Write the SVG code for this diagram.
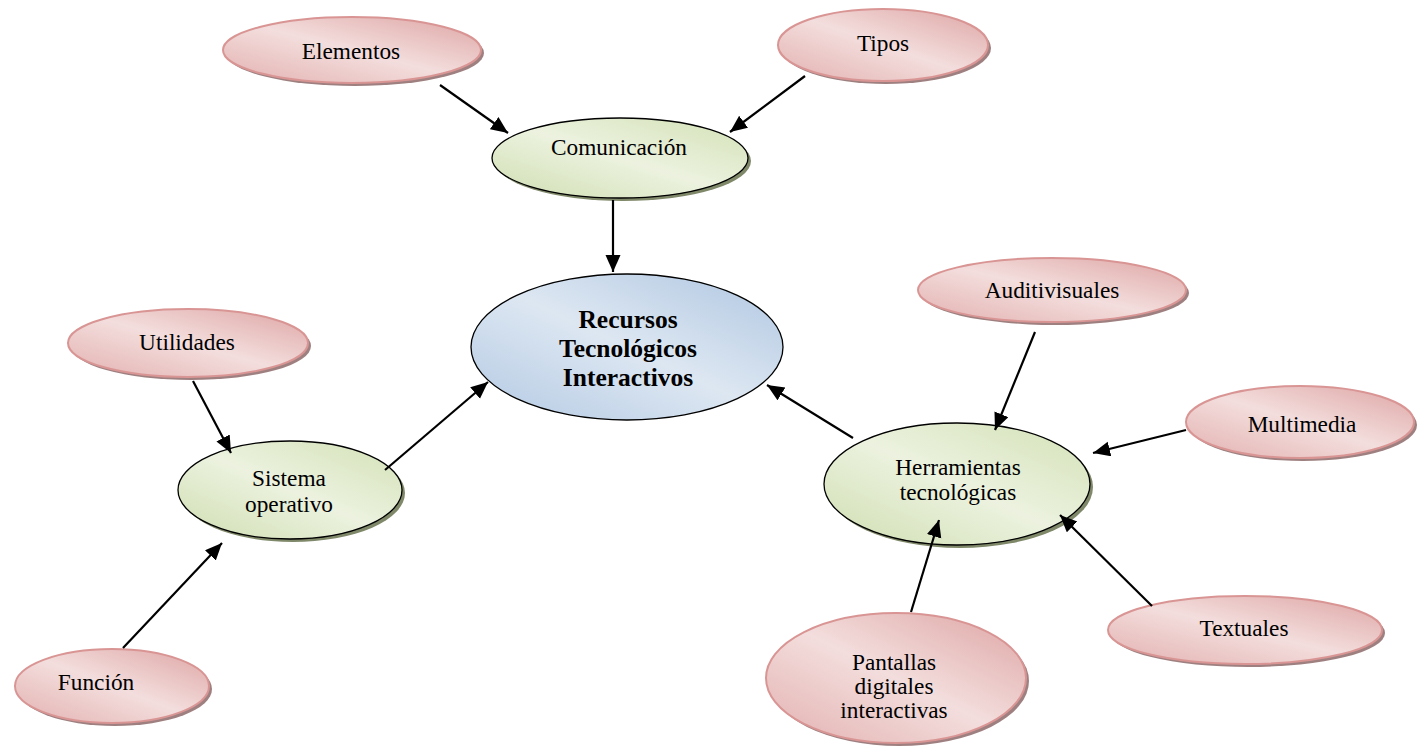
<svg xmlns="http://www.w3.org/2000/svg" width="1417" height="749" viewBox="0 0 1417 749">
  <defs>
    <linearGradient id="gPink" x1="1" y1="0" x2="0" y2="1">
      <stop offset="0" stop-color="#dda4a3"/>
      <stop offset="0.5" stop-color="#f3dedd"/>
      <stop offset="1" stop-color="#e2b0af"/>
    </linearGradient>
    <linearGradient id="gGreen" x1="1" y1="0" x2="0" y2="1">
      <stop offset="0" stop-color="#d3e1b6"/>
      <stop offset="0.5" stop-color="#ecf2df"/>
      <stop offset="1" stop-color="#cfdeb1"/>
    </linearGradient>
    <linearGradient id="gBlue" x1="1" y1="0" x2="0" y2="1">
      <stop offset="0" stop-color="#afc6e1"/>
      <stop offset="0.5" stop-color="#dde7f2"/>
      <stop offset="1" stop-color="#b3c9e3"/>
    </linearGradient>
    <marker id="arrow" markerUnits="userSpaceOnUse" markerWidth="18" markerHeight="16" refX="17" refY="7.5" orient="auto">
      <path d="M0,0 L17,7.5 L0,15 Z" fill="#000"/>
    </marker>
  </defs>
  <style>
    .shP { fill: #9f8081; }
    .shG { fill: #7f8869; }
    .pink { fill: url(#gPink); stroke: #d99594; stroke-width: 2; }
    .green { fill: url(#gGreen); stroke: #000; stroke-width: 1.3; }
    .blue { fill: url(#gBlue); stroke: #000; stroke-width: 1.3; }
    text { font-family: "Liberation Serif", "Times New Roman", serif; font-size: 23.3px; fill: #000; text-anchor: middle; }
    .bold { font-weight: bold; font-size: 25.5px; }
    .conn line { stroke: #000; stroke-width: 2.2; marker-end: url(#arrow); }
  </style>
  <rect width="1417" height="749" fill="#fff"/>

  <!-- central node -->
  <g id="recursos">
    <ellipse class="blue" cx="627" cy="347" rx="156" ry="73"/>
    <text class="bold" x="628" y="328">Recursos</text>
    <text class="bold" x="628" y="357">Tecnológicos</text>
    <text class="bold" x="628" y="386">Interactivos</text>
  </g>

  <!-- second level -->
  <g id="comunicacion">
    <ellipse class="shG" cx="623" cy="161" rx="128" ry="40"/>
    <ellipse class="green" cx="620" cy="158" rx="128" ry="40"/>
    <text x="619" y="155">Comunicación</text>
  </g>
  <g id="sistema">
    <ellipse class="shG" cx="293" cy="493" rx="112" ry="49"/>
    <ellipse class="green" cx="290" cy="490" rx="112" ry="49"/>
    <text x="289" y="486">Sistema</text>
    <text x="289" y="512">operativo</text>
  </g>
  <g id="herramientas">
    <ellipse class="shG" cx="960" cy="487" rx="133" ry="61"/>
    <ellipse class="green" cx="957" cy="484" rx="133" ry="61"/>
    <text x="958" y="475">Herramientas</text>
    <text x="958" y="500">tecnológicas</text>
  </g>

  <!-- leaves -->
  <g id="elementos">
    <ellipse class="shP" cx="355" cy="53" rx="129" ry="33"/>
    <ellipse class="pink" cx="352" cy="50" rx="129" ry="33"/>
    <text x="351" y="59">Elementos</text>
  </g>
  <g id="tipos">
    <ellipse class="shP" cx="886" cy="48" rx="105" ry="36"/>
    <ellipse class="pink" cx="883" cy="45" rx="105" ry="36"/>
    <text x="883" y="51">Tipos</text>
  </g>
  <g id="utilidades">
    <ellipse class="shP" cx="191" cy="346" rx="120" ry="34"/>
    <ellipse class="pink" cx="188" cy="343" rx="120" ry="34"/>
    <text x="187" y="350">Utilidades</text>
  </g>
  <g id="funcion">
    <ellipse class="shP" cx="115" cy="689" rx="97" ry="37"/>
    <ellipse class="pink" cx="112" cy="686" rx="97" ry="37"/>
    <text x="96" y="690">Función</text>
  </g>
  <g id="auditivisuales">
    <ellipse class="shP" cx="1055" cy="293" rx="134" ry="32"/>
    <ellipse class="pink" cx="1052" cy="290" rx="134" ry="32"/>
    <text x="1052" y="298">Auditivisuales</text>
  </g>
  <g id="multimedia">
    <ellipse class="shP" cx="1303" cy="425" rx="114" ry="36"/>
    <ellipse class="pink" cx="1300" cy="422" rx="114" ry="36"/>
    <text x="1302" y="432">Multimedia</text>
  </g>
  <g id="textuales">
    <ellipse class="shP" cx="1248" cy="633" rx="137" ry="34"/>
    <ellipse class="pink" cx="1245" cy="630" rx="137" ry="34"/>
    <text x="1244" y="636">Textuales</text>
  </g>
  <g id="pantallas">
    <ellipse class="shP" cx="899" cy="681" rx="130" ry="65"/>
    <ellipse class="pink" cx="896" cy="678" rx="130" ry="65"/>
    <text x="894" y="670">Pantallas</text>
    <text x="894" y="694">digitales</text>
    <text x="894" y="718">interactivas</text>
  </g>

  <!-- connectors, drawn over the nodes -->
  <g id="connectors" class="conn">
    <line x1="440" y1="85" x2="508" y2="133"/>
    <line x1="805" y1="76" x2="730" y2="132"/>
    <line x1="613" y1="200" x2="613" y2="272"/>
    <line x1="385" y1="470" x2="488" y2="382"/>
    <line x1="853" y1="438" x2="767" y2="385"/>
    <line x1="193" y1="381" x2="231" y2="453"/>
    <line x1="123" y1="648" x2="222" y2="543"/>
    <line x1="1035" y1="332" x2="995" y2="430"/>
    <line x1="1186" y1="430" x2="1093" y2="453"/>
    <line x1="911" y1="612" x2="939" y2="520"/>
    <line x1="1152" y1="606" x2="1060" y2="515"/>
  </g>
</svg>
